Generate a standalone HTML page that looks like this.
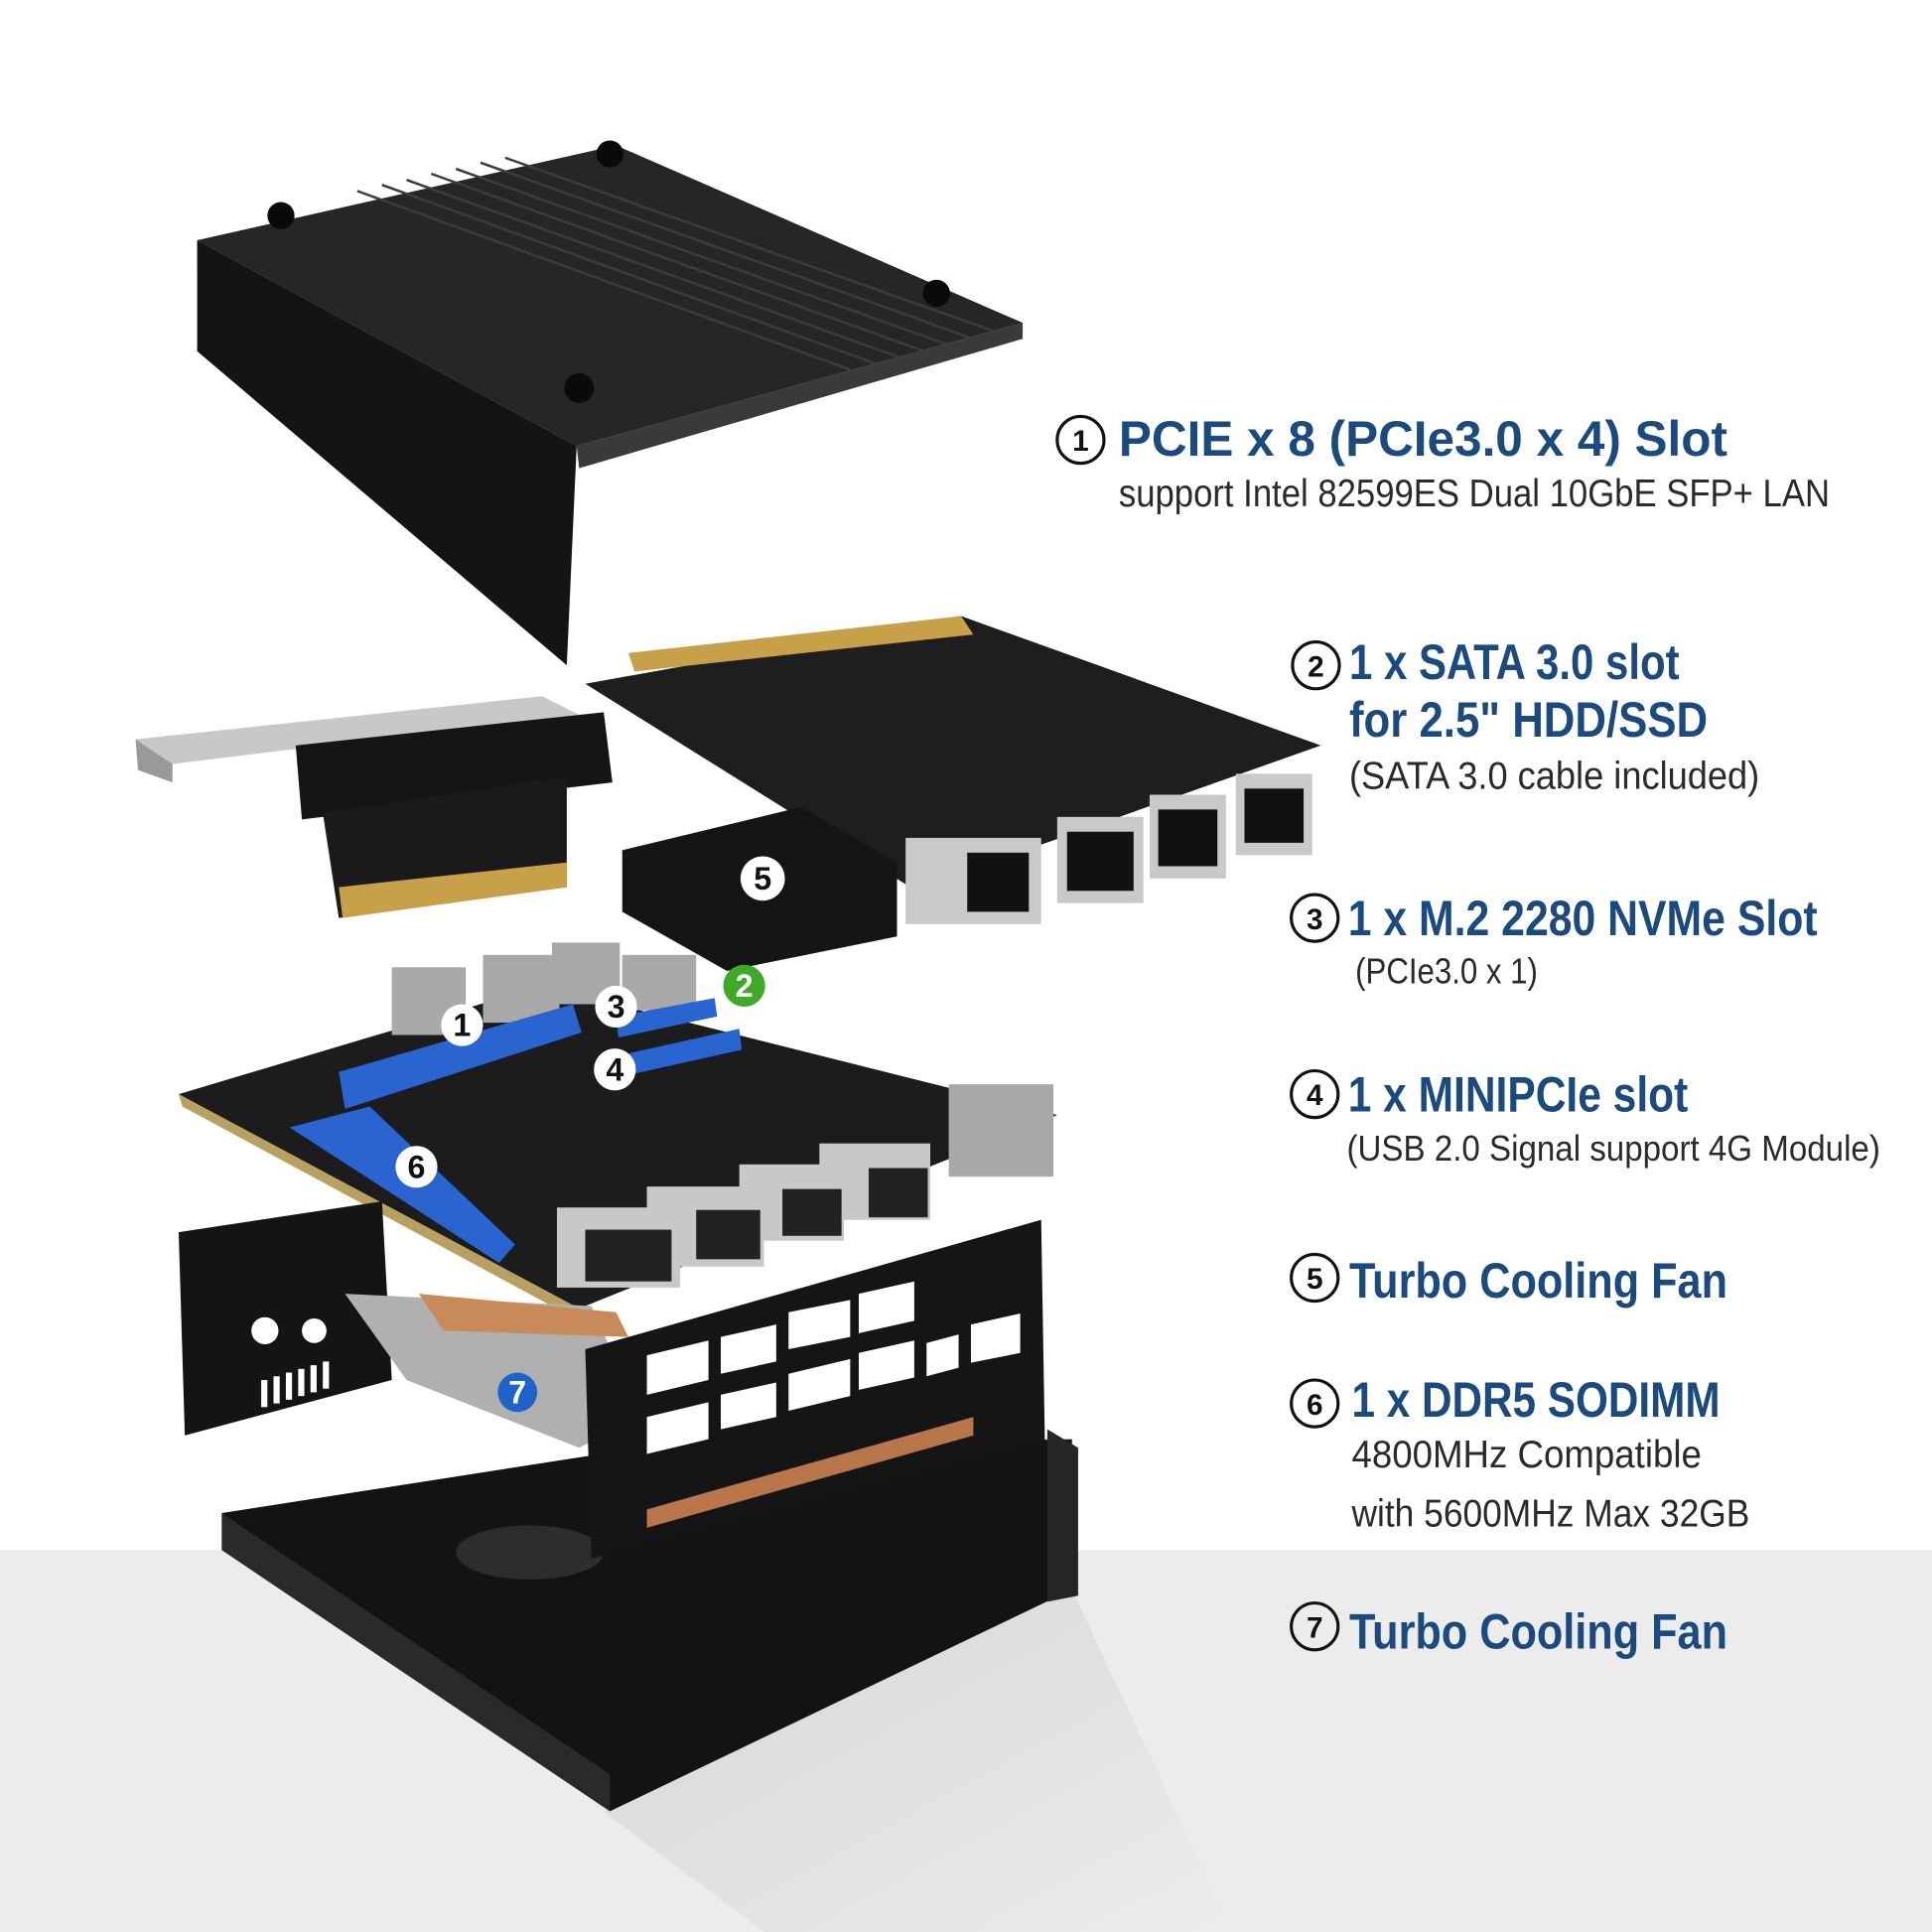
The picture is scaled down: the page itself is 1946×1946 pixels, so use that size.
<!DOCTYPE html>
<html><head><meta charset="utf-8"><style>
html,body{margin:0;padding:0;background:#fff}
svg{display:block}
.t{font-family:"Liberation Sans Narrow","Liberation Sans",sans-serif;font-weight:bold;fill:#1b4a7e}
.s{font-family:"Liberation Sans Narrow","Liberation Sans",sans-serif;fill:#2a2a2a}
.c{font-family:"Liberation Sans",sans-serif;font-weight:bold;font-size:24px;fill:#111;text-anchor:middle}
.n{font-family:"Liberation Sans",sans-serif;font-weight:bold;font-size:26px;text-anchor:middle}
</style></head><body>
<svg width="1946" height="1946" viewBox="0 0 1568 1568" xmlns="http://www.w3.org/2000/svg">
<defs><linearGradient id="sh" x1="0" y1="0" x2="1" y2="1"><stop offset="0" stop-color="#d6d6d6"/><stop offset="1" stop-color="#ececec"/></linearGradient></defs>
<rect width="1568" height="1568" fill="#fff"/>
<rect y="1258" width="1568" height="310" fill="#ececec"/>
<polygon points="490,1470 870,1290 1000,1568 620,1568" fill="url(#sh)"/>
<!-- top cover -->
<polygon points="160,195 500,118 830,262 468,362" fill="#262626"/>
<polygon points="160,195 468,362 460,540 160,285" fill="#141414"/>
<polygon points="468,362 830,262 830,275 470,380" fill="#3a3a3a"/>
<g stroke="#3c3c3c" stroke-width="2">
<line x1="290" y1="155" x2="690" y2="300"/><line x1="310" y1="150" x2="710" y2="295"/><line x1="330" y1="146" x2="730" y2="290"/><line x1="350" y1="141" x2="750" y2="285"/><line x1="370" y1="137" x2="770" y2="280"/><line x1="390" y1="132" x2="790" y2="275"/><line x1="410" y1="128" x2="810" y2="270"/>
</g>
<circle cx="228" cy="175" r="11" fill="#0a0a0a"/><circle cx="495" cy="125" r="11" fill="#0a0a0a"/><circle cx="760" cy="238" r="11" fill="#0a0a0a"/><circle cx="470" cy="315" r="12" fill="#0a0a0a"/>
<!-- riser -->
<polygon points="110,600 440,565 470,580 140,620" fill="#c8c8c8"/>
<polygon points="110,600 140,620 140,635 112,625" fill="#999"/>
<polygon points="240,605 490,578 497,635 245,665" fill="#151515"/>
<polygon points="262,660 460,630 460,720 275,745" fill="#1a1a1a"/>
<polygon points="275,720 460,700 460,720 278,745" fill="#c9a04a"/>
<!-- PCIe card -->
<polygon points="475,555 780,500 1072,605 742,722" fill="#1e1e1e"/>
<polygon points="510,530 780,500 790,515 515,545" fill="#c9a04a"/>
<g fill="#c9c9c9"><rect x="735" y="680" width="110" height="70"/><rect x="858" y="663" width="70" height="70"/><rect x="933" y="645" width="62" height="68"/><rect x="1003" y="628" width="62" height="66"/></g>
<g fill="#111"><rect x="785" y="692" width="50" height="48"/><rect x="866" y="675" width="54" height="48"/><rect x="940" y="657" width="48" height="46"/><rect x="1010" y="640" width="48" height="44"/></g>
<!-- fan 5 -->
<polygon points="505,690 650,655 728,700 728,760 590,788 505,740" fill="#151515"/>
<circle cx="619" cy="713" r="18" fill="#fff"/><text x="619" y="722" class="n" fill="#111">5</text>
<!-- bottom chassis (behind IO plate) -->
<polygon points="180,1228 520,1175 870,1168 870,1290 495,1470 180,1258" fill="#131313"/>
<polygon points="180,1228 495,1440 495,1470 180,1258" fill="#2a2a2a"/>
<polygon points="850,1160 875,1175 875,1295 850,1300" fill="#252525"/>
<ellipse cx="430" cy="1260" rx="60" ry="22" fill="#2d2d2d"/>
<!-- motherboard -->
<polygon points="145,888 440,800 858,905 470,1062" fill="#1c1c1c"/>
<polygon points="145,888 470,1062 470,1072 148,898" fill="#b8a060"/>
<g fill="#a9a9a9"><rect x="318" y="785" width="60" height="55"/><rect x="392" y="775" width="62" height="55"/><rect x="448" y="765" width="55" height="50"/><rect x="505" y="775" width="60" height="45"/><rect x="770" y="880" width="85" height="75"/></g>
<polygon points="275,870 465,815 472,838 280,900" fill="#2a64d0"/>
<polygon points="235,915 300,898 418,1010 405,1025" fill="#2a64d0"/>
<polygon points="500,825 580,810 582,825 502,842" fill="#2a64d0"/>
<polygon points="510,855 600,835 602,852 512,872" fill="#2a64d0"/>
<g fill="#c8c8c8"><rect x="452" y="980" width="100" height="65"/><rect x="525" y="963" width="95" height="65"/><rect x="600" y="945" width="85" height="62"/><rect x="665" y="928" width="90" height="62"/></g>
<g fill="#222"><rect x="475" y="998" width="70" height="42"/><rect x="565" y="982" width="52" height="40"/><rect x="635" y="965" width="48" height="38"/><rect x="705" y="948" width="48" height="40"/></g>
<!-- IO left plate -->
<polygon points="145,1000 310,975 318,1120 150,1165" fill="#141414"/>
<circle cx="215" cy="1080" r="11" fill="#fff"/><circle cx="255" cy="1080" r="10" fill="#fff"/>
<g fill="#fff"><rect x="212" y="1120" width="5" height="22"/><rect x="222" y="1117" width="5" height="22"/><rect x="232" y="1114" width="5" height="22"/><rect x="242" y="1111" width="5" height="22"/><rect x="252" y="1108" width="5" height="22"/><rect x="262" y="1105" width="5" height="22"/></g>
<!-- fan 7 -->
<polygon points="280,1050 480,1060 520,1150 470,1175 330,1120" fill="#b0b0b0"/>
<polygon points="340,1050 500,1065 510,1085 360,1080" fill="#c98a5a"/>
<circle cx="420" cy="1130" r="16" fill="#1f62c9"/><text x="420" y="1139" class="n" fill="#fff">7</text>
<!-- IO right plate -->
<polygon points="475,1095 845,990 848,1170 480,1265" fill="#151515"/>
<g fill="#fff"><polygon points="525,1100 575,1088 575,1120 525,1132"/><polygon points="585,1085 630,1075 630,1105 585,1115"/><polygon points="640,1065 690,1055 690,1085 640,1095"/><polygon points="697,1050 742,1040 742,1072 697,1082"/><polygon points="525,1150 575,1138 575,1168 525,1180"/><polygon points="585,1132 630,1122 630,1150 585,1160"/><polygon points="640,1115 690,1103 690,1133 640,1145"/><polygon points="697,1098 742,1088 742,1118 697,1128"/><polygon points="752,1090 778,1083 778,1110 752,1117"/><polygon points="788,1075 828,1066 828,1098 788,1106"/></g>
<polygon points="525,1225 790,1150 790,1165 525,1240" fill="#b8764a"/>
<!-- motherboard labels -->
<g>
<circle cx="375" cy="832" r="17" fill="#fff"/><text x="375" y="841" class="n" fill="#111">1</text>
<circle cx="500" cy="817" r="17" fill="#fff"/><text x="500" y="826" class="n" fill="#111">3</text>
<circle cx="499" cy="868" r="17" fill="#fff"/><text x="499" y="877" class="n" fill="#111">4</text>
<circle cx="604" cy="800" r="17" fill="#3faa2a"/><text x="604" y="809" class="n" fill="#fff">2</text>
<circle cx="338" cy="947" r="17" fill="#fff"/><text x="338" y="956" class="n" fill="#111">6</text>
</g>
<!-- text -->
<g fill="none" stroke="#111" stroke-width="2.5">
<circle cx="877" cy="357" r="19"/><circle cx="1068" cy="540" r="19"/><circle cx="1067" cy="745" r="19"/><circle cx="1067" cy="888" r="19"/><circle cx="1067" cy="1037" r="19"/><circle cx="1067" cy="1139" r="19"/><circle cx="1067" cy="1320" r="19"/>
</g>
<text x="877" y="366" class="c">1</text><text x="1068" y="549" class="c">2</text><text x="1067" y="754" class="c">3</text><text x="1067" y="897" class="c">4</text><text x="1067" y="1046" class="c">5</text><text x="1067" y="1148" class="c">6</text><text x="1067" y="1329" class="c">7</text>
<text x="908" y="370" class="t" font-size="40" textLength="494" lengthAdjust="spacingAndGlyphs">PCIE x 8 (PCIe3.0 x 4) Slot</text>
<text x="908" y="411" class="s" font-size="31" textLength="577" lengthAdjust="spacingAndGlyphs">support Intel 82599ES Dual 10GbE SFP+ LAN</text>
<text x="1095" y="551" class="t" font-size="40" textLength="268" lengthAdjust="spacingAndGlyphs">1 x SATA 3.0 slot</text>
<text x="1095" y="598" class="t" font-size="40" textLength="291" lengthAdjust="spacingAndGlyphs">for 2.5" HDD/SSD</text>
<text x="1095" y="640" class="s" font-size="31" fill="#444" textLength="333" lengthAdjust="spacingAndGlyphs">(SATA 3.0 cable included)</text>
<text x="1094" y="759" class="t" font-size="40" textLength="381" lengthAdjust="spacingAndGlyphs">1 x M.2 2280 NVMe Slot</text>
<text x="1100" y="798" class="s" font-size="29" textLength="148" lengthAdjust="spacingAndGlyphs">(PCIe3.0 x 1)</text>
<text x="1094" y="902" class="t" font-size="40" textLength="276" lengthAdjust="spacingAndGlyphs">1 x MINIPCIe slot</text>
<text x="1093" y="942" class="s" font-size="29" textLength="433" lengthAdjust="spacingAndGlyphs">(USB 2.0 Signal support 4G Module)</text>
<text x="1095" y="1053" class="t" font-size="40" textLength="307" lengthAdjust="spacingAndGlyphs">Turbo Cooling Fan</text>
<text x="1097" y="1150" class="t" font-size="40" textLength="299" lengthAdjust="spacingAndGlyphs">1 x DDR5 SODIMM</text>
<text x="1097" y="1191" class="s" font-size="31" textLength="284" lengthAdjust="spacingAndGlyphs">4800MHz Compatible</text>
<text x="1097" y="1239" class="s" font-size="31" textLength="323" lengthAdjust="spacingAndGlyphs">with 5600MHz Max 32GB</text>
<text x="1095" y="1338" class="t" font-size="40" textLength="307" lengthAdjust="spacingAndGlyphs">Turbo Cooling Fan</text>
</svg>
</body></html>
